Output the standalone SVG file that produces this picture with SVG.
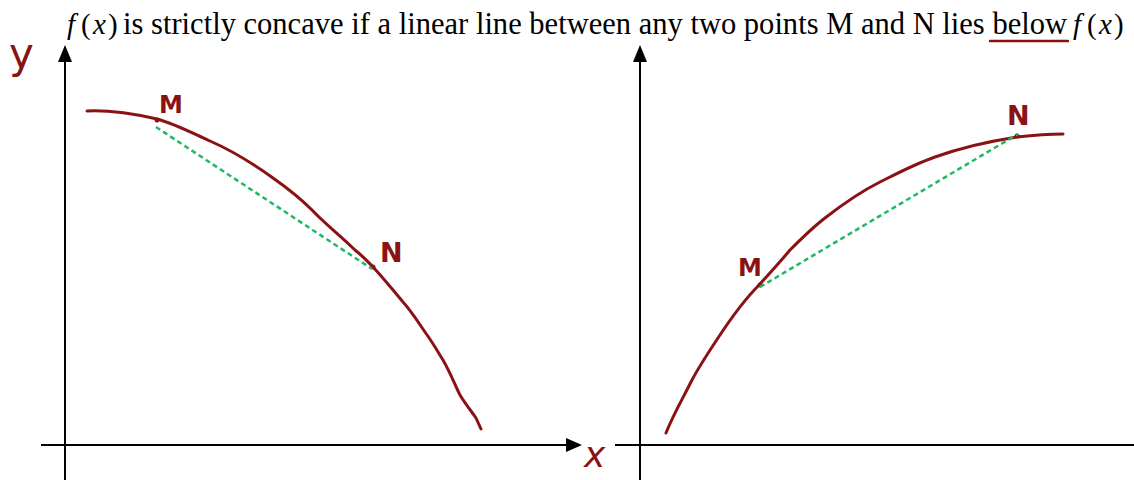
<svg xmlns="http://www.w3.org/2000/svg" width="1134" height="480" viewBox="0 0 1134 480">
<defs>
<style>
.axis{stroke:#000;stroke-width:2;fill:none}
.curve{stroke:#8b1212;stroke-width:3;fill:none;stroke-linecap:round;stroke-linejoin:round}
.chord{stroke:#1fb864;stroke-width:2.5;fill:none;stroke-dasharray:5 3.5}
.title{font-family:"Liberation Serif",serif;font-size:30.5px;fill:#000}
.math{font-family:"Liberation Serif",serif;font-size:29px;fill:#000}
.it{font-style:italic}
.hand{font-family:"DejaVu Sans",sans-serif;font-weight:bold;fill:#8b1212}
.arrow{fill:#000}
</style>
</defs>
<rect width="1134" height="480" fill="#fff"/>
<g id="title">
<text class="math" y="34"><tspan class="it" x="67">f</tspan><tspan x="81">(</tspan><tspan class="it" x="93">x</tspan><tspan x="108">)</tspan></text>
<text class="title" x="123" y="34" textLength="944" lengthAdjust="spacing">is strictly concave if a linear line between any two points M and N lies below</text>
<text class="math" y="34"><tspan class="it" x="1073">f</tspan><tspan x="1087">(</tspan><tspan class="it" x="1099">x</tspan><tspan x="1114">)</tspan></text>
<line x1="990" y1="41" x2="1068" y2="41" stroke="#8b1212" stroke-width="2.5" stroke-linecap="round"/>
</g>
<g id="axes-left">
<line class="axis" x1="65" y1="60" x2="65" y2="480"/>
<polygon class="arrow" points="65,45 58,62 72,62"/>
<line class="axis" x1="41" y1="445" x2="570" y2="445"/>
<polygon class="arrow" points="582,445 566,438 566,452"/>
</g>
<g id="axes-right">
<line class="axis" x1="640" y1="60" x2="640" y2="480"/>
<polygon class="arrow" points="640,45 633,62 647,62"/>
<line class="axis" x1="615" y1="445" x2="1134" y2="445"/>
</g>
<g id="labels">
<text class="hand" x="9" y="68" font-size="42" style="font-weight:normal">y</text>
<text class="hand" x="584" y="467" font-size="36" style="font-style:italic;font-weight:normal">x</text>
</g>
<g id="curve-left">
<path class="curve" d="M87,111 C110,110 135,114 157,119 C175,124 190,132 210,141 C235,152 255,165 273,178 C290,190 300,198 312,210 C325,224 340,235 355,250 C365,258 368,262 373,267 C385,280 393,290 403,302 C412,312 418,322 425,332 C433,343 438,352 443,360 C450,372 455,385 460,395 C466,405 472,412 476,418 L481,429"/>
<circle cx="157" cy="120" r="2.5" fill="#8b1212"/>
<circle cx="373" cy="267" r="2.5" fill="#8b1212"/>
</g>
<g id="curve-right">
<path class="curve" d="M666,433 C673,415 683,398 692,380 C700,365 710,350 718,338 C735,312 748,296 760,284 C770,273 780,262 790,250 C800,240 812,228 825,218 C843,204 860,192 880,182 C900,172 915,164 935,157 C960,148 985,142 1017,137 C1035,135 1050,134 1063,134"/>
<circle cx="760" cy="285" r="2.5" fill="#8b1212"/>
<circle cx="1017" cy="136" r="2.5" fill="#8b1212"/>
</g>
<g id="chords">
<line class="chord" x1="156" y1="127" x2="372" y2="269"/>
<line class="chord" x1="760" y1="287" x2="1018" y2="134"/>
</g>
<g id="point-labels">
<text class="hand" x="159" y="113" font-size="24">M</text>
<text class="hand" x="380" y="262" font-size="27">N</text>
<text class="hand" x="738" y="276" font-size="24">M</text>
<text class="hand" x="1007" y="125" font-size="27">N</text>
</g>
</svg>
